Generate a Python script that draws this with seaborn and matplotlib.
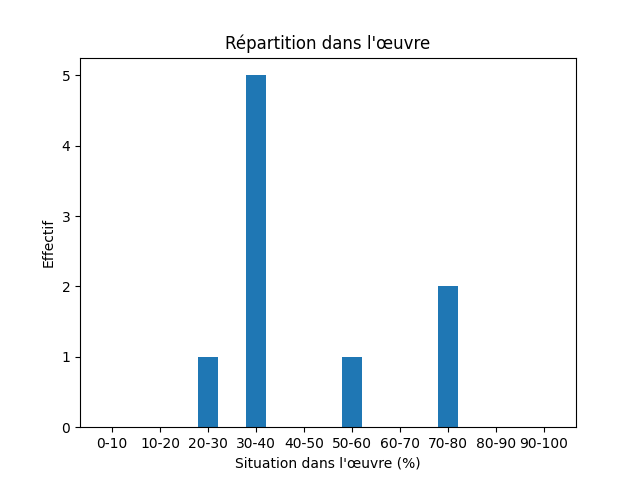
import matplotlib
matplotlib.use("Agg")
import matplotlib.pyplot as plt
import seaborn as sns
import pandas as pd

categories = ["0-10", "10-20", "20-30", "30-40", "40-50", "50-60", "60-70", "70-80", "80-90", "90-100"]
counts = [0, 0, 1, 5, 0, 1, 0, 2, 0, 0]

df = pd.DataFrame({"cat": categories, "n": counts})

fig, ax = plt.subplots(figsize=(6.4, 4.8), dpi=100)
sns.barplot(data=df, x="cat", y="n", order=categories, color="#1f77b4",
            saturation=1, width=0.4, ax=ax, errorbar=None)
ax.set_xlim(-0.67, 9.67)
ax.set_ylim(0, 5.25)
ax.set_title("Répartition dans l'œuvre")
ax.set_xlabel("Situation dans l'œuvre (%)")
ax.set_ylabel("Effectif")
fig.savefig("out.png", dpi=100)
